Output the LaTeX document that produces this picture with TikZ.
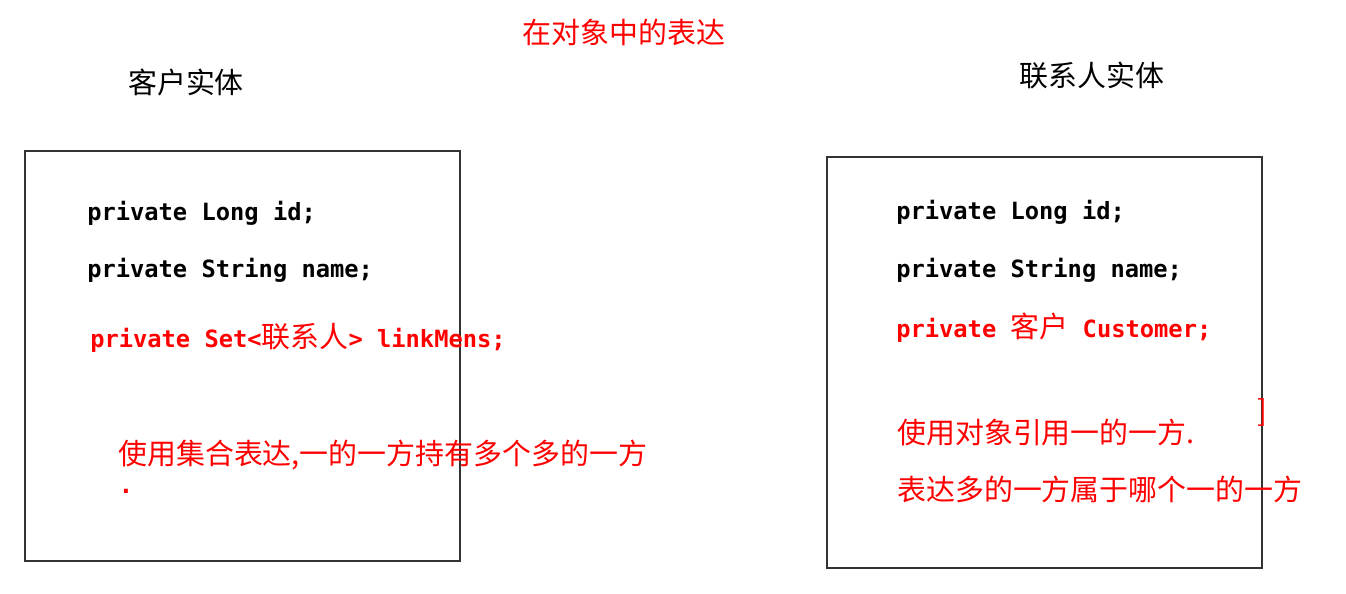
\documentclass[tikz,border=0pt]{standalone}
\usepackage{fontspec}
\setmonofont{DejaVu Sans Mono}
\newfontfamily\cjk{Noto Sans CJK SC}
\newcommand{\zh}[1]{{\cjk\mdseries\fontsize{21.7pt}{26pt}\selectfont #1}}

\begin{document}
\begin{tikzpicture}[x=0.75pt, y=-0.75pt]
            \tikzstyle{entity} = [draw=black!80, line width=1pt, minimum width=326.25pt, inner sep=0]
            \tikzstyle{code} = [anchor=base west, inner sep=0, font=\ttfamily\bfseries\fontsize{17.8pt}{20pt}\selectfont]
            \tikzstyle{note} = [anchor=west, inner sep=0, text=red, font=\cjk\fontsize{21.7pt}{26pt}\selectfont]
            \tikzstyle{heading} = [inner sep=0, font=\cjk\fontsize{21.7pt}{26pt}\selectfont]
            \useasboundingbox (0,0) rectangle (1346,593);
            \node[heading, text=red] (title) at (624, 32) {在对象中的表达};
            \node[heading] (custname) at (186, 82) {客户实体};
            \node[heading] (linkname) at (1092, 76) {联系人实体};
            \node[entity, minimum height=307.5pt] (cust) at (242.5, 356) {};
            \node[entity, minimum height=308.25pt] (link) at (1044.5, 362.5) {};
            \node[code] (cid) at (87, 220) {private Long id;};
            \node[code] (cname) at (87, 277) {private String name;};
            \node[code, text=red] (cset) at (90, 347) {private Set<\zh{联系人}> linkMens;};
            \node[note] (cnote) at (118, 455) {使用集合表达,一的一方持有多个多的一方};
            \node[code, text=red, anchor=center] (cdot) at (126, 491) {.};
            \node[code] (lid) at (896, 219) {private Long id;};
            \node[code] (lname) at (896, 277) {private String name;};
            \node[code, text=red] (lcust) at (896, 337) {private \zh{客户} Customer;};
            \node[note] (lnote) at (897, 432) {使用对象引用一的一方.};
            \node[note] (lnote2) at (897, 489) {表达多的一方属于哪个一的一方};
            \node[note, anchor=center] (brk) at (1262, 412) {]};
        \end{tikzpicture}
\end{document}
